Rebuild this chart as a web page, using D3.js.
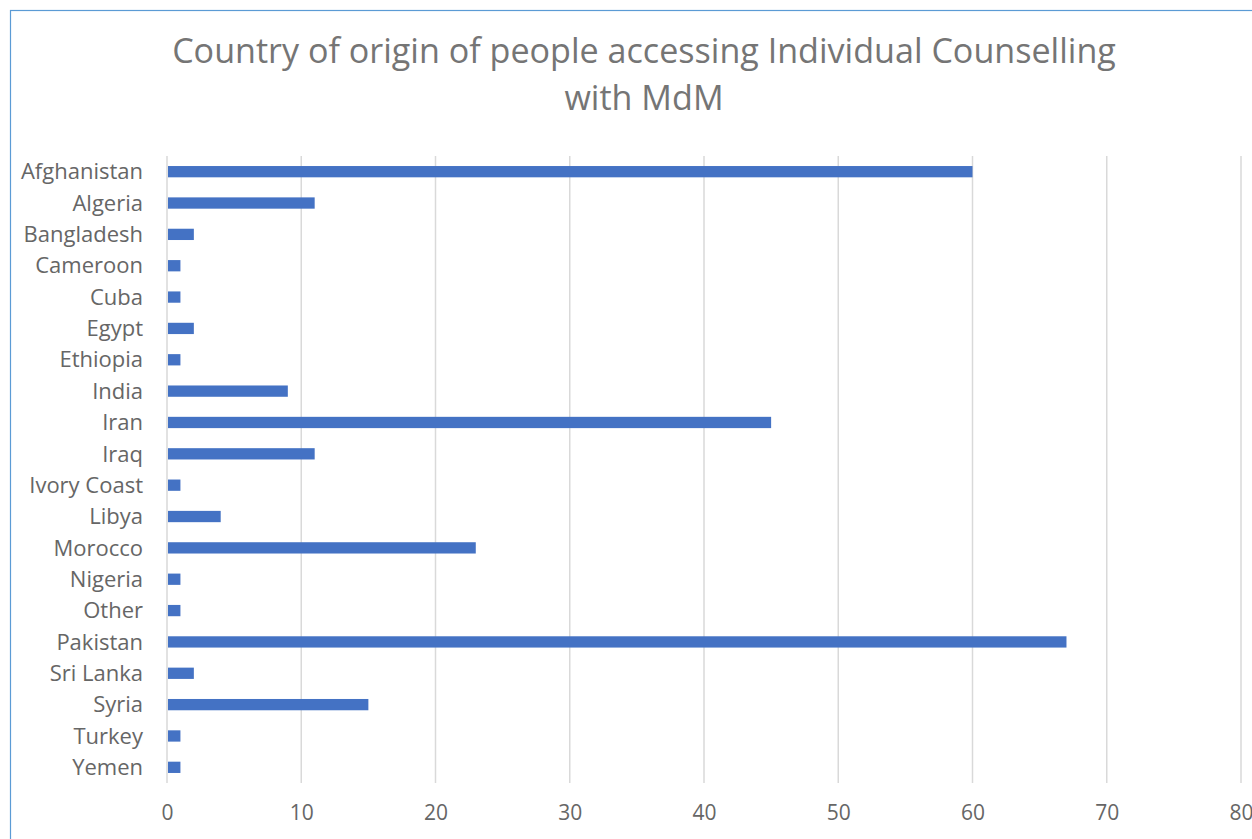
<!DOCTYPE html>
<html>
<head>
<meta charset="utf-8">
<script src="https://cdn.jsdelivr.net/npm/d3@7"></script>
<style>
  body { margin: 0; background: #fff; }
  text { font-family: "Open Sans", "Liberation Sans", sans-serif; }
</style>
</head>
<body>
<svg id="chart"></svg>
<script>
const countries = ['Afghanistan', 'Algeria', 'Bangladesh', 'Cameroon', 'Cuba', 'Egypt', 'Ethiopia',
  'India', 'Iran', 'Iraq', 'Ivory Coast', 'Libya', 'Morocco', 'Nigeria', 'Other', 'Pakistan',
  'Sri Lanka', 'Syria', 'Turkey', 'Yemen']
const counts = [60, 11, 2, 1, 1, 2, 1, 9, 45, 11, 1, 4, 23, 1, 1, 67, 2, 15, 1, 1]
const xTicks = [0, 10, 20, 30, 40, 50, 60, 70, 80]
const titleLines = ['Country of origin of people accessing Individual Counselling', 'with MdM']

function drawChart () {
  const width = 1252
  const height = 839
  const margin = { top: 156, left: 167, right: 11, bottom: 56 }

  const svg = d3.select('#chart')
    .attr('width', width)
    .attr('height', height)

  // chart border (box runs off the right and bottom edges)
  svg.append('rect')
    .attr('x', 10.5)
    .attr('y', 10.5)
    .attr('width', width + 20)
    .attr('height', height + 20)
    .attr('fill', 'none')
    .attr('stroke', '#5b9bd5')
    .attr('stroke-width', 1.2)

  const x = d3.scaleLinear()
    .domain([0, 80])
    .range([margin.left, width - margin.right])

  const y = d3.scaleBand()
    .domain(countries)
    .range([margin.top, height - margin.bottom])
    .paddingInner(0.64)
    .paddingOuter(0.32)

  // title
  const title = svg.append('g')
    .selectAll('text')
    .data(titleLines)
    .enter().append('text')
    .attr('x', 644)
    .attr('y', (d, i) => 63 + i * 47)
    .attr('text-anchor', 'middle')
    .attr('fill', '#757575')
    .style('font-size', '31px')
    .text(d => d)
  // size the title so the long line spans about 944px like the original
  const w = title.node().getComputedTextLength()
  title.style('font-size', (31 * 944 / w) + 'px')

  // gridlines
  svg.append('g')
    .selectAll('line')
    .data(xTicks)
    .enter().append('line')
    .attr('x1', d => x(d))
    .attr('x2', d => x(d))
    .attr('y1', margin.top)
    .attr('y2', height - margin.bottom)
    .attr('stroke', '#d9d9d9')
    .attr('stroke-width', 1.5)

  // bars
  svg.append('g')
    .selectAll('rect')
    .data(countries)
    .enter().append('rect')
    .attr('x', x(0) + 1)
    .attr('y', d => y(d))
    .attr('width', (d, i) => x(counts[i]) - x(0) - 1)
    .attr('height', y.bandwidth())
    .attr('fill', '#4472c4')

  // y axis
  const yAxis = svg.append('g')
    .attr('transform', `translate(${margin.left - 24},0)`)
    .call(d3.axisLeft(y).tickSize(0).tickPadding(0))
  yAxis.select('.domain').remove()
  yAxis.selectAll('text')
    .attr('fill', '#666666')
    .style('font-size', '22px')
    .attr('dy', '0.35em')

  // x axis
  const xAxis = svg.append('g')
    .attr('transform', `translate(0,${height - margin.bottom})`)
    .call(d3.axisBottom(x).tickValues(xTicks).tickSize(0).tickPadding(22))
  xAxis.select('.domain').remove()
  xAxis.selectAll('text')
    .attr('fill', '#666666')
    .style('font-size', '21px')
}

drawChart()
</script>
</body>
</html>
